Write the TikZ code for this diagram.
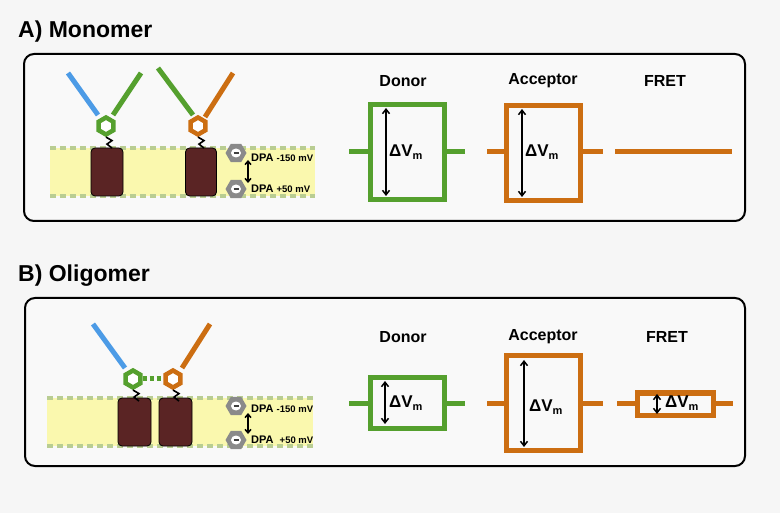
\documentclass[tikz,border=0pt]{standalone}
\usepackage{fontspec}
\setmainfont{Liberation Sans}
\usetikzlibrary{shapes.geometric,arrows.meta,calc}
\definecolor{bgc}{HTML}{F6F6F6}
\definecolor{panelc}{HTML}{F9F9F9}
\definecolor{cblue}{HTML}{4C9BE6}
\definecolor{cgreen}{HTML}{55A02E}
\definecolor{corange}{HTML}{CC6E12}
\definecolor{cbrown}{HTML}{5A2424}
\definecolor{cyel}{HTML}{FAF8AE}
\definecolor{cdash}{HTML}{B9CD92}
\definecolor{cgray}{HTML}{8A8A8A}
\tikzset{
  panel/.style={draw=black, line width=2pt, rounded corners=10pt, fill=panelc},
  title/.style={font=\fontsize{23}{23}\selectfont\bfseries, anchor=base west, inner sep=0pt},
  lab/.style={font=\fontsize{16}{16}\selectfont\bfseries, inner sep=0pt},
  dv/.style={font=\fontsize{17}{17}\selectfont\bfseries, inner sep=0pt},
  antenna/.style={line width=5pt},
  hexn/.style={regular polygon, regular polygon sides=6, shape border rotate=30, minimum size=17pt, inner sep=0pt, line width=4.5pt, fill=white},
  ghex/.style={regular polygon, regular polygon sides=6, minimum size=21pt, inner sep=0pt, fill=cgray,
    path picture={\fill[white] (path picture bounding box.center) ellipse (5pt and 4.5pt);
                  \draw[black!75, line width=1.5pt] ($(path picture bounding box.center)+(-2.5,0)$) -- ++(5,0);}},
  prot/.style={draw=black, line width=0.8pt, fill=cbrown, rounded corners=4pt},
  memb/.style={fill=cyel},
  mdash/.style={draw=cdash, line width=4pt, dash pattern=on 6pt off 4pt},
  squig/.style={draw=black, line width=1.6pt},
  dpa/.style={font=\fontsize{11}{11}\selectfont\bfseries, anchor=west, inner sep=0pt},
  dparr/.style={{Straight Barb[length=3.5pt,width=6pt]}-{Straight Barb[length=3.5pt,width=6pt]}, line width=1.5pt},
  vbox/.style={line width=5pt},
  lead/.style={line width=5pt},
  varr/.style={{Straight Barb[length=4.5pt,width=7pt]}-{Straight Barb[length=4.5pt,width=7pt]}, line width=1.5pt}
}
\newcommand{\dvm}{ΔV\textsubscript{\fontsize{11}{11}\selectfont m}}
\newcommand{\smallmv}[1]{{\fontsize{9.5}{9.5}\selectfont #1}}
\begin{document}
\begin{tikzpicture}[x=1pt,y=-1pt]
\fill[bgc] (0,0) rectangle (780,513);
\useasboundingbox (0,0) rectangle (780,513);

% ================= Panel A =================
\node[title] (ta) at (18,38) {A) Monomer};
\draw[panel] (24,54) rectangle (745,221);

% membrane
\fill[memb] (50,148) rectangle (315,196);
\draw[mdash] (50,148) -- (315,148);
\draw[mdash] (50,196) -- (315,196);

% proteins
\node[prot, minimum width=32pt, minimum height=48pt] (pa1) at (107,172) {};
\node[prot, minimum width=31pt, minimum height=48pt] (pa2) at (201,172) {};

% antennas
\draw[antenna, cblue] (68,73) -- (98,115);
\draw[antenna, cgreen] (141,73) -- (113,115);
\draw[antenna, cgreen] (158,68) -- (193,115);
\draw[antenna, corange] (233,73) -- (205,117);

% fluorophore hexagons
\node[hexn, draw=cgreen] (ha1) at (106,126) {};
\node[hexn, draw=corange] (ha2) at (198,126) {};

% linkers
\draw[squig] (ha1.south) -- ++(6,3.5) -- ++(-5,3.5) -- ++(5,4);
\draw[squig] (ha2.south) -- ++(6,3.5) -- ++(-5,3.5) -- ++(5,4);

% DPA
\node[ghex] (ga1) at (236,153) {};
\node[ghex] (ga2) at (236,189) {};
\coordinate (aa1) at (248,160);
\coordinate (aa2) at (248,183);
\draw[dparr] (aa1) -- (aa2);
\node[dpa] (da1) at (251,158) {DPA \smallmv{-150 mV}};
\node[dpa] (da2) at (251,189) {DPA \smallmv{+50 mV}};

% Donor
\node[lab] (ldA) at (403,81) {Donor};
\draw[vbox, cgreen] (370.5,104.5) rectangle (444.5,199.5);
\draw[lead, cgreen] (349,152) -- (370.5,152);
\draw[lead, cgreen] (444.5,152) -- (465,152);
\coordinate (dA1) at (386,108);
\coordinate (dA2) at (386,196);
\draw[varr] (dA1) -- (dA2);
\node[dv] (vdA) at (406,152) {\dvm};

% Acceptor
\node[lab] (laA) at (543,81) {Acceptor};
\draw[vbox, corange] (506.5,105.5) rectangle (580.5,200.5);
\draw[lead, corange] (487,152) -- (506.5,152);
\draw[lead, corange] (580.5,152) -- (603,152);
\coordinate (aA1) at (522,109);
\coordinate (aA2) at (522,197);
\draw[varr] (aA1) -- (aA2);
\node[dv] (vaA) at (542,152) {\dvm};

% FRET
\node[lab] (lfA) at (665,81) {FRET};
\draw[lead, corange] (615,152) -- (732,152);

% ================= Panel B =================
\node[title] (tb) at (18,282) {B) Oligomer};
\draw[panel] (25,298) rectangle (745,466);

\fill[memb] (47,398) rectangle (313,446);
\draw[mdash] (47,398) -- (313,398);
\draw[mdash] (47,446) -- (313,446);

\node[prot, minimum width=33pt, minimum height=48pt] (pb1) at (134.5,422) {};
\node[prot, minimum width=33pt, minimum height=48pt] (pb2) at (175.5,422) {};

\draw[antenna, cblue] (93,324) -- (125,368);
\draw[antenna, corange] (210,324) -- (182,368);

\node[hexn, draw=cgreen] (hb1) at (133,379) {};
\node[hexn, draw=corange] (hb2) at (173,379) {};
\draw[cgreen, line width=5pt, dash pattern=on 4pt off 3pt] (hb1.east) -- (hb2.west);

\draw[squig] (hb1.south) -- ++(6,3.5) -- ++(-5,3.5) -- ++(5,4);
\draw[squig] (hb2.south) -- ++(6,3.5) -- ++(-5,3.5) -- ++(5,4);

\node[ghex] (gb1) at (236,406) {};
\node[ghex] (gb2) at (236,440) {};
\coordinate (ab1) at (248,413);
\coordinate (ab2) at (248,434);
\draw[dparr] (ab1) -- (ab2);
\node[dpa] (db1) at (251,409) {DPA \smallmv{-150 mV}};
\node[dpa] (db2) at (251,440) {DPA\ \ \smallmv{+50 mV}};

% Donor
\node[lab] (ldB) at (403,337) {Donor};
\draw[vbox, cgreen] (370.5,377.5) rectangle (444.5,428.5);
\draw[lead, cgreen] (349,403) -- (370.5,403);
\draw[lead, cgreen] (444.5,403) -- (465,403);
\coordinate (dB1) at (385,381);
\coordinate (dB2) at (385,424);
\draw[varr] (dB1) -- (dB2);
\node[dv] (vdB) at (406,403) {\dvm};

% Acceptor
\node[lab] (laB) at (543,337) {Acceptor};
\draw[vbox, corange] (506.5,355.5) rectangle (580.5,450.5);
\draw[lead, corange] (487,403) -- (506.5,403);
\draw[lead, corange] (580.5,403) -- (603,403);
\coordinate (aB1) at (524,360);
\coordinate (aB2) at (524,447);
\draw[varr] (aB1) -- (aB2);
\node[dv] (vaB) at (546,407) {\dvm};

% FRET
\node[lab] (lfB) at (667,337) {FRET};
\draw[vbox, corange] (637,393) rectangle (713,415);
\draw[lead, corange] (617,403) -- (637,403);
\draw[lead, corange] (713,403) -- (733,403);
\coordinate (fB1) at (657,394);
\coordinate (fB2) at (657,414);
\draw[varr] (fB1) -- (fB2);
\node[dv] (vfB) at (682,403) {\dvm};
\end{tikzpicture}
\end{document}
